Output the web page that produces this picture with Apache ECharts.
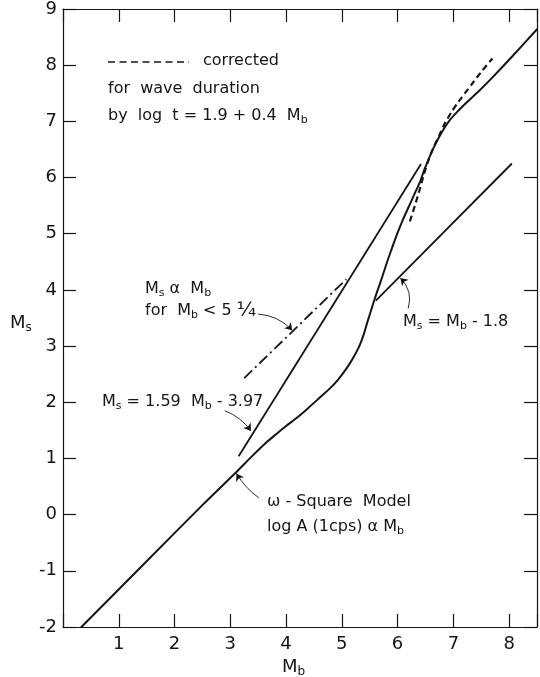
<!DOCTYPE html>
<html>
<head>
<meta charset="utf-8">
<script src="https://cdn.jsdelivr.net/npm/echarts@6/dist/echarts.min.js"></script>
<style>
  html, body { margin: 0; padding: 0; background: #fff; }
  #chart { width: 540px; height: 677px; }
</style>
</head>
<body>
<div id="chart"></div>
<script>
// Surface-wave magnitude Ms against body-wave magnitude Mb
const xTickValues = [1, 2, 3, 4, 5, 6, 7, 8];
const yTickValues = [-2, -1, 0, 1, 2, 3, 4, 5, 6, 7, 8, 9];

// omega-square model curve, log A (1 cps) proportional to Mb
const omegaSquare = [
  [0.33, -2.00], [1.50, -0.83], [2.50, 0.17], [3.10, 0.75], [3.40, 1.05],
  [3.64, 1.28], [3.82, 1.43], [3.99, 1.57], [4.20, 1.73], [4.40, 1.90],
  [4.60, 2.08], [4.81, 2.27], [4.93, 2.40], [5.04, 2.54], [5.13, 2.67],
  [5.22, 2.82], [5.29, 2.95], [5.35, 3.09], [5.40, 3.23], [5.45, 3.40],
  [5.51, 3.59], [5.57, 3.78], [5.63, 3.96], [5.69, 4.13], [5.76, 4.34],
  [5.83, 4.55], [5.92, 4.80], [6.01, 5.04], [6.10, 5.26], [6.20, 5.48],
  [6.30, 5.70], [6.40, 5.92], [6.48, 6.14], [6.57, 6.36], [6.66, 6.56],
  [6.75, 6.73], [6.85, 6.90], [6.95, 7.04], [7.07, 7.17], [7.20, 7.30],
  [7.45, 7.53], [7.68, 7.76], [8.05, 8.15], [8.50, 8.64]
];
// same model corrected for wave duration
const corrected = [
  [6.22, 5.22], [6.31, 5.50], [6.40, 5.80], [6.47, 6.05], [6.54, 6.27],
  [6.60, 6.43], [6.66, 6.57], [6.75, 6.76], [6.85, 6.97], [6.97, 7.17],
  [7.10, 7.36], [7.33, 7.66], [7.50, 7.88], [7.70, 8.12]
];
// Ms = 1.59 Mb - 3.97
const linearFit = [[3.15, 1.04], [6.42, 6.24]];
// Ms = Mb - 1.8
const offsetLine = [[5.61, 3.81], [8.05, 6.25]];
// Ms proportional to Mb for Mb < 5 1/4
const proportional = [[3.25, 2.43], [5.08, 4.19]];

const INK = '#151515';
const FONT = 'DejaVu Sans';

const rich = {
  n: { fontSize: 16, fontFamily: FONT, color: INK, lineHeight: 20 },
  s: { fontSize: 11, fontFamily: FONT, color: INK, lineHeight: 11, padding: [9, 0, 0, 0] },
  f: { fontSize: 20, fontFamily: FONT, color: INK, lineHeight: 20 },
  a: { fontSize: 18, fontFamily: FONT, color: INK, lineHeight: 22 },
  as: { fontSize: 12, fontFamily: FONT, color: INK, lineHeight: 12, padding: [10, 0, 0, 0] }
};

function note(x, y, text) {
  return {
    type: 'text', x: x, y: y, silent: true,
    style: { text: text, rich: rich, align: 'left', verticalAlign: 'middle', font: '16px ' + FONT, fill: INK }
  };
}

function arrow(from, to, curveness) {
  return { coords: [from, to], lineStyle: { curveness: curveness } };
}

const chart = echarts.init(document.getElementById('chart'), null, { renderer: 'canvas' });

const axisCommon = {
  type: 'value',
  splitLine: { show: false },
  axisLine: { show: true, onZero: false, lineStyle: { color: INK, width: 1.2 } },
  axisTick: { show: true, inside: true, length: 13, lineStyle: { color: INK, width: 1.2 } },
  minorTick: { show: false }
};

chart.setOption({
  animation: false,
  backgroundColor: '#fff',
  grid: { left: 63, right: -7, top: 7, bottom: 50, containLabel: false },
  xAxis: [
    Object.assign({}, axisCommon, {
      position: 'bottom', min: 0, max: 8.5, interval: 1,
      axisLabel: {
        show: true, margin: 8, fontSize: 18, fontFamily: FONT, color: INK,
        formatter: v => (xTickValues.indexOf(v) >= 0 ? String(v) : '')
      }
    }),
    Object.assign({}, axisCommon, {
      position: 'top', min: 0, max: 8.5, interval: 1,
      axisLabel: { show: false }
    })
  ],
  yAxis: [
    Object.assign({}, axisCommon, {
      position: 'left', min: -2, max: 9, interval: 1,
      axisLabel: {
        show: true, margin: 6, fontSize: 18, fontFamily: FONT, color: INK,
        formatter: v => (yTickValues.indexOf(v) >= 0 ? String(v) : '')
      }
    }),
    Object.assign({}, axisCommon, {
      position: 'right', min: -2, max: 9, interval: 1,
      axisLabel: { show: false }
    })
  ],
  series: [
    {
      type: 'line', name: 'omega-square', data: omegaSquare,
      smooth: 0.25, showSymbol: false, symbol: 'none',
      lineStyle: { color: INK, width: 2, join: 'round', cap: 'round' }, z: 3
    },
    {
      type: 'line', name: 'corrected', data: corrected,
      smooth: 0.25, showSymbol: false, symbol: 'none',
      lineStyle: { color: INK, width: 2.2, type: [6, 4] }, z: 3
    },
    {
      type: 'line', name: 'linear fit', data: linearFit,
      showSymbol: false, symbol: 'none',
      lineStyle: { color: INK, width: 1.8 }
    },
    {
      type: 'line', name: 'offset', data: offsetLine,
      showSymbol: false, symbol: 'none',
      lineStyle: { color: INK, width: 1.8 }
    },
    {
      type: 'line', name: 'proportional', data: proportional,
      showSymbol: false, symbol: 'none',
      lineStyle: { color: INK, width: 1.8, type: [11, 4, 2, 4] }
    },
    {
      type: 'lines', coordinateSystem: 'cartesian2d', silent: true,
      symbol: ['none', 'arrow'], symbolSize: 7,
      lineStyle: { color: INK, width: 0.9, opacity: 1 },
      data: [
        arrow([3.50, 3.57], [4.11, 3.28], 0.2),
        arrow([2.90, 1.85], [3.37, 1.49], 0.15),
        arrow([6.19, 3.67], [6.05, 4.21], -0.3),
        arrow([3.51, 0.30], [3.11, 0.73], 0.1)
      ]
    }
  ],
  graphic: [
    {
      type: 'line', silent: true,
      shape: { x1: 108, y1: 62, x2: 189, y2: 62 },
      style: { stroke: INK, lineWidth: 1.6, lineDash: [7, 4.5] }
    },
    note(203, 61, '{n|corrected}'),
    note(108, 89, '{n|for  wave  duration}'),
    note(108, 116, '{n|by  log  t = 1.9 + 0.4  M}{s|b}'),
    note(145, 289, '{n|M}{s|s}{n| α  M}{s|b}'),
    note(145, 311, '{n|for  M}{s|b}{n| < 5 }{f|¼}'),
    note(102, 402, '{n|M}{s|s}{n| = 1.59  M}{s|b}{n| - 3.97}'),
    note(403, 322, '{n|M}{s|s}{n| = M}{s|b}{n| - 1.8}'),
    note(267, 502, '{n|ω - Square  Model}'),
    note(267, 527, '{n|log A (1cps) α M}{s|b}'),
    note(10, 323, '{a|M}{as|s}'),
    note(282, 667, '{a|M}{as|b}')
  ]
});
</script>
</body>
</html>
